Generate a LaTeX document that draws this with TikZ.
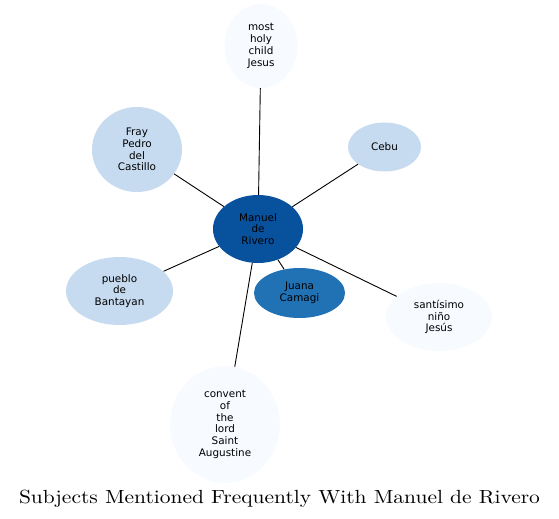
\documentclass[tikz,border=0pt]{standalone}
\usepackage{fontspec}
\newfontfamily\nodefont{DejaVu Sans}
\newfontface\titlefont{lmroman10-regular.otf}[FakeStretch=1.13]
\usetikzlibrary{shapes.geometric}
\definecolor{bluedark}{HTML}{08519C}
\definecolor{bluemid}{HTML}{2171B5}
\definecolor{bluelight}{HTML}{C6DBEF}
\definecolor{bluepale}{HTML}{F7FBFF}

\begin{document}
\begin{tikzpicture}[x=1bp,y=-1bp,
  subject/.style={ellipse,draw=none,inner sep=0pt,align=center,text=black,
    font=\nodefont\fontsize{10.4bp}{11.8bp}\selectfont},
  link/.style={draw=black,line width=0.9bp}]
\useasboundingbox (0,0) rectangle (559,519);

\node[subject,fill=bluedark,minimum width=90bp,minimum height=68bp] (rivero) at (258,229) {Manuel\\de\\Rivero};
\node[subject,fill=bluepale,minimum width=73bp,minimum height=84bp] (jesus) at (261,46) {most\\holy\\child\\Jesus};
\node[subject,fill=bluelight,minimum width=90bp,minimum height=85bp] (castillo) at (137,149.5) {Fray\\Pedro\\del\\Castillo};
\node[subject,fill=bluelight,minimum width=73bp,minimum height=49bp] (cebu) at (384.5,147) {Cebu};
\node[subject,fill=bluelight,minimum width=107bp,minimum height=68bp] (bantayan) at (119.5,291) {pueblo\\de\\Bantayan};
\node[subject,fill=bluemid,minimum width=91bp,minimum height=50bp] (camagi) at (299.5,293) {Juana\\Camagi};
\node[subject,fill=bluepale,minimum width=106bp,minimum height=68bp] (nino) at (439,317) {santísimo\\niño\\Jesús};
\node[subject,fill=bluepale,minimum width=110bp,minimum height=117bp] (convent) at (225,424.5) {convent\\of\\the\\lord\\Saint\\Augustine};

\draw[link] (rivero) -- (jesus);
\draw[link] (rivero) -- (castillo);
\draw[link] (rivero) -- (cebu);
\draw[link] (rivero) -- (bantayan);
\draw[link] (rivero) -- (camagi);
\draw[link] (rivero) -- (nino);
\draw[link] (rivero) -- (convent);

\node[anchor=base,font=\titlefont\fontsize{19bp}{23bp}\selectfont] (title) at (279.5,503.5) {Subjects Mentioned Frequently With Manuel de Rivero};
\end{tikzpicture}
\end{document}
